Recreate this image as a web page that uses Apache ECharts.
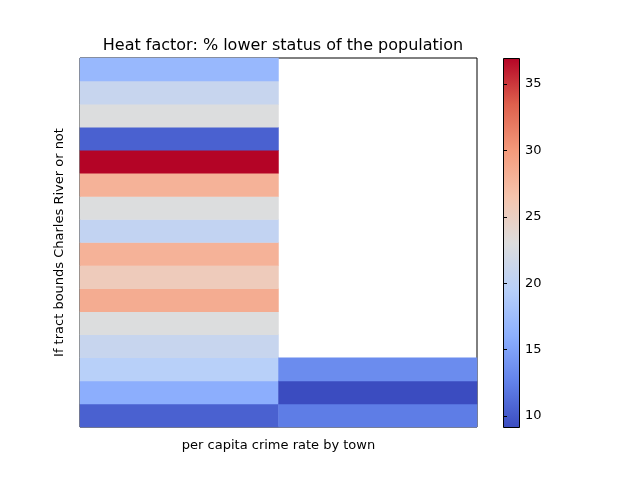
<!DOCTYPE html>
<html>
<head>
<meta charset="utf-8">
<script src="https://cdn.jsdelivr.net/npm/echarts@6/dist/echarts.min.js"></script>
<style>html,body{margin:0;background:#fff}#chart{width:640px;height:480px}</style>
</head>
<body>
<div id="chart"></div>
<script>
// columns (x) and rows (y, bottom to top)
var columns = ['0', '1'];
var rows = ['0','1','2','3','4','5','6','7','8','9','10','11','12','13','14','15'];
// values per row, bottom to top; null = no data
var col0Values = [10.5, 16.0, 19.6, 21.0, 23.0, 28.5, 25.5, 28.0, 20.5, 23.0, 28.0, 37.0, 10.5, 23.0, 21.0, 17.0];
var col1Values = [12.3, 9.2, 13.4, null, null, null, null, null, null, null, null, null, null, null, null, null];
var colorTicks = [10, 15, 20, 25, 30, 35];
var vMin = 9.17, vMax = 36.96;

var coolwarm = ['#3b4cc0','#6282ea','#8db0fe','#b8d0f9','#dddddd','#f5c4ad','#f49a7b','#de604d','#b40426'];

var cells = [];
col0Values.forEach(function (v, i) { if (v !== null) cells.push([0, i, v]); });
col1Values.forEach(function (v, i) { if (v !== null) cells.push([1, i, v]); });

var font = 'DejaVu Sans';
var chart = echarts.init(document.getElementById('chart'));
chart.setOption({
    animation: false,
    textStyle: { fontFamily: font },
    title: {
        text: 'Heat factor: % lower status of the population',
        left: 278, top: 33, textAlign: 'center',
        textStyle: { fontSize: 16, fontWeight: 'normal', color: '#000', fontFamily: font }
    },
    graphic: [{
        type: 'rect', left: 503, top: 58, z: 0,
        shape: { width: 16, height: 369 },
        style: {
            fill: new echarts.graphic.LinearGradient(0, 1, 0, 0, coolwarm.map(function (c, i) {
                return { offset: i / (coolwarm.length - 1), color: c };
            })),
            stroke: '#000', lineWidth: 1
        }
    }],
    grid: [
        { left: 80, top: 58, width: 397, height: 369, show: true, borderColor: '#000', borderWidth: 1, backgroundColor: '#fff' },
        { left: 503, top: 58, width: 16, height: 369 }
    ],
    visualMap: {
        show: false, min: vMin, max: vMax, seriesIndex: 0, dimension: 2,
        inRange: { color: coolwarm }
    },
    xAxis: [
        { type: 'category', data: columns, gridIndex: 0, name: 'per capita crime rate by town',
          nameLocation: 'middle', nameGap: 12, nameTextStyle: { fontSize: 13, color: '#000' },
          axisLabel: { show: false }, axisTick: { show: false }, axisLine: { show: false } },
        { type: 'value', gridIndex: 1, show: false }
    ],
    yAxis: [
        { type: 'category', data: rows, gridIndex: 0, name: 'If tract bounds Charles River or not',
          nameLocation: 'middle', nameGap: 14, nameTextStyle: { fontSize: 13, color: '#000' },
          axisLabel: { show: false }, axisTick: { show: false }, axisLine: { show: false } },
        { type: 'value', gridIndex: 1, position: 'right', min: vMin, max: vMax,
          splitLine: { show: false }, axisLine: { show: false },
          axisTick: { show: true, length: 4, lineStyle: { color: '#000' }, customValues: colorTicks },
          axisLabel: { color: '#000', fontSize: 13, margin: 6, customValues: colorTicks } }
    ],
    series: [
        { type: 'heatmap', data: cells, xAxisIndex: 0, yAxisIndex: 0 },
        { type: 'scatter', data: [], xAxisIndex: 1, yAxisIndex: 1 }
    ]
});
</script>
</body>
</html>
